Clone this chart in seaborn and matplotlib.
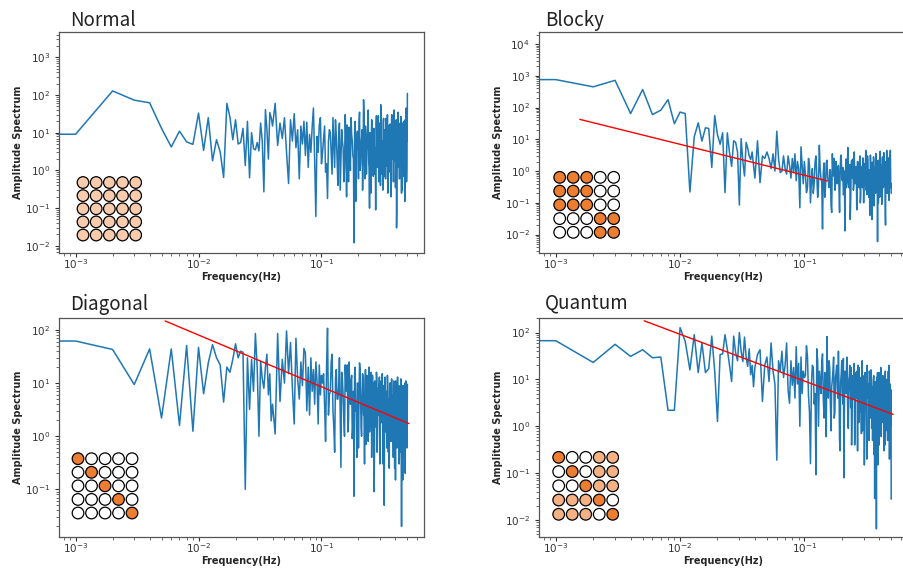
import numpy as np
import pandas as pd
import matplotlib
matplotlib.use("Agg")
import matplotlib.pyplot as plt
import seaborn as sns

# ---------------- data ----------------
freq_lo = np.arange(0, 41) / 1000.0
freq_mid = np.arange(42, 101, 2) / 1000.0
freq_hi = np.arange(104, 501, 4) / 1000.0
freq_hi2 = np.arange(102, 499, 4) / 1000.0

normal_lo = [2500, 9.1, 128, 73, 62, 13, 4.2, 11, 5.7, 4.9,
             33, 3.4, 25, 1.8, 6.5, 3.1, 0.65, 60, 26, 6.5,
             22, 5.0, 5.5, 13, 1.35, 20, 0.64, 10, 3.8, 3.5,
             5.5, 3.3, 18, 6.0, 0.27, 41, 12, 2.0, 34, 25, 15]
normal_mid = [60, 4.6, 18, 7, 25, 3, 0.45, 22, 6, 32,
              4, 12, 0.6, 15, 5, 20, 2.5, 19, 1.2, 9,
              3, 14, 45, 2, 0.06, 8, 3, 16, 25, 1.5]
normal_hi = [7, 0.9, 0.18, 12, 3, 25, 1.2, 8, 0.4, 18,
             2, 6, 0.5, 30, 0.2, 4, 14, 1, 9, 2.5,
             0.012, 20, 3, 11, 0.6, 35, 1.5, 7, 0.3, 75,
             2, 15, 0.8, 6, 40, 1.1, 10, 0.25, 22, 4,
             0.7, 13, 3, 0.09, 28, 1.5, 9, 0.5, 18, 2.2,
             55, 0.8, 6, 0.3, 24, 3, 12, 0.6, 8, 1.3,
             30, 0.4, 5, 16, 0.9, 10, 0.2, 26, 2.5, 7,
             0.5, 40, 1.8, 11, 0.35, 20, 0.03, 6, 1.2, 35,
             3, 9, 0.6, 15, 1.5, 25, 0.25, 8, 2, 18,
             0.7, 12, 3.5, 0.15, 22, 1, 45, 0.5, 10, 110]
normal_hi2 = [3, 15, 1.5, 6, 10, 0.8, 5, 22, 2, 9,
              0.3, 12, 4, 1.2, 7, 16, 0.5, 3, 25, 6,
              2, 10, 0.15, 8, 4, 18, 1, 5, 12, 2.5,
              30, 0.6, 7, 3, 14, 1.8, 0.1, 9, 5, 20,
              2, 11, 0.8, 4, 16, 6, 1.2, 28, 3, 8,
              0.4, 13, 5, 2, 19, 0.7, 9, 4, 24, 1.5,
              6, 0.25, 12, 3, 8, 17, 1, 5, 30, 2,
              10, 0.5, 7, 3.5, 14, 1.2, 22, 0.08, 6, 9,
              2.5, 18, 0.6, 11, 4, 27, 1.5, 7, 0.3, 13,
              5, 20, 2, 8, 0.9, 15, 3, 35, 1.2, 6]

blocky_lo = [11500, 760, 450, 720, 65, 370, 60, 83, 178, 31,
             72, 65, 0.22, 12, 33, 8.8, 23, 22, 1.3, 56,
             14, 7, 16, 0.21, 16, 3.8, 1.4, 9, 8, 4,
             0.085, 10.5, 2, 0.7, 8, 5.4, 3, 2.3, 4, 1.5, 0.6]
blocky_mid = [9, 0.43, 3, 2.5, 4, 2.5, 1.2, 3.5, 1.0, 18,
              2.5, 0.9, 1.0, 3, 1.2, 0.8, 3, 1.5, 0.6, 2.5,
              0.9, 3.5, 0.5, 2, 1.2, 0.07, 5.8, 1.5, 0.4, 2]
blocky_hi = [0.21, 2.5, 0.1, 1.2, 0.4, 3, 0.15, 6.5, 0.6, 0.015,
             1.8, 0.3, 2.2, 0.5, 1.1, 0.08, 3.5, 0.7, 0.25, 2,
             0.4, 1.5, 0.05, 2.8, 0.6, 1.3, 0.2, 0.013, 2.4, 0.5,
             5.5, 0.3, 1.6, 0.12, 2.2, 0.7, 0.25, 4, 0.4, 1.2,
             0.06, 2, 0.8, 0.3, 3, 0.15, 1.4, 0.5, 2.6, 0.1,
             1.7, 0.35, 4.5, 0.6, 0.18, 2.2, 0.45, 1.1, 0.04, 3.2,
             0.7, 0.2, 1.9, 0.5, 2.8, 0.08, 1.3, 0.4, 3.6, 0.25,
             1.5, 0.006, 2.2, 0.6, 1.1, 0.15, 4.2, 0.4, 1.6, 0.09,
             2.5, 0.7, 0.3, 3.8, 0.5, 1.2, 0.05, 2, 0.6, 4.5,
             0.2, 1.4, 0.45, 2.6, 0.12, 1.8, 0.35, 4.5, 0.3, 0.2]
blocky_hi2 = [0.8, 0.3, 1.5, 0.5, 0.2, 2, 0.7, 0.35, 1.2, 0.45,
              0.9, 0.15, 1.8, 0.6, 0.3, 1.1, 0.05, 0.8, 2.5, 0.4,
              0.6, 1.3, 0.25, 0.9, 3.2, 0.5, 0.18, 1, 0.7, 0.3,
              1.6, 0.45, 0.8, 0.03, 1.2, 0.6, 2.4, 0.35, 0.9, 0.5,
              1.4, 0.2, 0.7, 1.9, 0.4, 0.1, 1.1, 0.6, 0.3, 2.1,
              0.8, 0.45, 1.3, 0.25, 0.7, 3, 0.5, 0.15, 1, 0.4,
              1.7, 0.6, 0.03, 0.9, 0.35, 2.3, 0.55, 1.2, 0.2, 0.8,
              0.45, 1.5, 0.7, 0.1, 2, 0.4, 0.9, 0.3, 1.3, 0.6,
              0.2, 2.8, 0.5, 1.1, 0.35, 0.8, 1.6, 0.02, 0.7, 1.2,
              0.4, 2.2, 0.6, 0.9, 0.15, 1.4, 0.5, 3, 0.8, 0.4]

diagonal_lo = [62, 62, 43, 9.4, 44, 2.2, 44, 1.6, 51, 1.24,
               47, 6.3, 24, 53, 30, 22, 4.4, 20, 16, 28,
               55, 30, 40, 38, 0.1, 30, 3.2, 28, 7, 86,
               20, 1.0, 26, 12, 8, 20, 35, 6, 15, 1.95, 4]
diagonal_mid = [1.1, 86, 4.5, 28, 10, 96, 15, 58, 8, 1.7,
                70, 12, 5, 25, 9, 45, 37, 3, 20, 2.5,
                30, 7, 18, 4, 25, 11, 1.7, 22, 6, 14]
diagonal_hi = [15, 0.8, 108, 6, 25, 3, 0.5, 18, 5, 30,
               0.26, 12, 2, 22, 7, 1.2, 25, 4, 14, 1.5,
               0.074, 20, 3, 10, 0.6, 24, 5, 1, 15, 2.5,
               0.3, 18, 4, 9, 0.8, 20, 2, 6, 0.4, 14,
               3, 0.09, 11, 1.5, 16, 0.5, 8, 2.5, 13, 0.7,
               6, 1.8, 15, 0.3, 9, 0.05, 12, 2, 7, 0.6,
               14, 1.2, 5, 0.25, 10, 3, 0.8, 12, 2, 6,
               0.4, 11, 1.5, 4, 0.15, 9, 2.5, 0.6, 13, 1,
               5, 0.3, 8, 2, 0.5, 10, 0.02, 6, 1.5, 9,
               0.4, 4, 1, 10, 0.2, 7, 1.5, 3, 0.6, 9.5]
diagonal_hi2 = [10, 4, 20, 2.5, 7, 35, 1.5, 12, 5, 8,
                3, 16, 6, 1, 9, 22, 2, 5, 11, 0.9,
                7, 15, 3, 0.4, 10, 5, 18, 1.5, 6, 12,
                2.5, 8, 0.7, 14, 4, 9, 1.2, 6, 16, 2,
                5, 10, 0.6, 7, 3, 12, 1.8, 5, 9, 0.3,
                4, 11, 2, 6, 0.9, 8, 3, 13, 1.2, 5,
                2.5, 9, 0.5, 4, 7, 1.5, 10, 3, 0.8, 6,
                2, 8, 4, 0.25, 5, 11, 1.5, 3.5, 7, 1,
                4, 9, 0.4, 6, 2, 12, 1.2, 3, 5, 0.15,
                8, 2.5, 4, 0.7, 6, 3, 11, 1, 5, 2]

quantum_lo = [67, 67, 23, 56, 31, 43, 29, 30, 2.2, 2.2,
              127, 65, 16, 90, 14, 60, 14, 17, 84, 15,
              1.27, 34, 35, 90, 44, 20, 9, 84, 37, 25,
              100, 40, 24, 80, 30, 19, 45, 12.7, 20, 7, 18]
quantum_mid = [34, 43, 3.4, 20, 30, 9, 60, 15, 8, 0.19,
               25, 15, 40, 11, 20, 60, 6, 3.1, 25, 7.5,
               18, 4, 50, 8, 22, 1.0, 30, 5, 15, 11]
quantum_hi = [52, 4.5, 0.16, 20, 3, 0.093, 25, 15, 5, 35,
              1.5, 12, 82, 4, 18, 0.8, 10, 30, 2, 14,
              6, 40, 0.5, 9, 25, 3, 0.08, 15, 5, 30,
              1.2, 10, 20, 2.5, 0.4, 12, 4, 22, 1, 8,
              15, 0.3, 6, 18, 2, 10, 0.7, 25, 3, 9,
              0.15, 14, 5, 1.5, 20, 4, 8, 0.5, 12, 3,
              16, 0.9, 7, 2, 11, 0.25, 0.029, 9, 3, 0.0065,
              6, 14, 1, 5, 0.4, 10, 2.5, 18, 0.6, 7,
              1.5, 12, 3, 0.3, 8, 2, 15, 0.8, 5, 1.2,
              10, 0.5, 6, 2.5, 20, 0.2, 4, 1, 3.5, 0.028]
quantum_hi2 = [12, 30, 2, 8, 18, 5, 45, 1, 9, 22,
               4, 14, 0.6, 10, 25, 3, 7, 16, 1.5, 11,
               20, 4, 8, 0.3, 13, 6, 28, 2, 9, 15,
               5, 0.9, 12, 7, 18, 2.5, 6, 10, 0.4, 14,
               4, 9, 20, 1.2, 6, 11, 3, 16, 0.8, 7,
               12, 2, 5, 9, 0.2, 13, 4, 7, 15, 1.5,
               6, 10, 3, 0.5, 8, 12, 2, 5, 9, 1,
               11, 4, 0.15, 7, 14, 2.5, 5, 9, 0.7, 6,
               10, 3, 1.2, 8, 4, 12, 0.4, 6, 2, 9,
               3.5, 0.9, 7, 15, 2, 5, 1.5, 8, 3, 6]

# power-law fit lines (start / end)
blocky_fit_f = [0.00156, 0.153]
blocky_fit_a = [42.5, 0.49]
diagonal_fit_f = [0.00535, 0.514]
diagonal_fit_a = [148, 1.73]
quantum_fit_f = [0.00514, 0.518]
quantum_fit_a = [178, 1.80]

# 5x5 pattern grids: P pale, L light, D dark, W white
normal_grid = ["PPPPP", "PPPPP", "PPPPP", "PPPPP", "PPPPP"]
blocky_grid = ["DDDWW", "DDDWW", "DDDWW", "WWWDD", "WWWDD"]
diagonal_grid = ["DWWWW", "WDWWW", "WWDWW", "WWWDW", "WWWWD"]
quantum_grid = ["DWWLL", "WDWLL", "WWDLL", "LLLDW", "LLLWD"]

titles = ["Normal", "Blocky", "Diagonal", "Quantum"]

# ---------------- layout ----------------
W, H = 904, 570
sns.set_style("ticks")
plt.rcParams["font.family"] = ["DejaVu Sans"]

fig = plt.figure(figsize=(W / 100, H / 100), dpi=100)

def px_axes(l, t, r, b):
    return fig.add_axes([l / W, 1 - b / H, (r - l) / W, (b - t) / H])

panels = [
    dict(title=titles[0], lo=normal_lo, mid=normal_mid, hi=normal_hi, hi2=normal_hi2,
         fit=None, grid=normal_grid, box=(59, 32, 424, 253), ylim=(-2.19, 3.67),
         tpos=(70, 26), inset=[0.0477, 0.0516, 0.1805, 0.297]),
    dict(title=titles[1], lo=blocky_lo, mid=blocky_mid, hi=blocky_hi, hi2=blocky_hi2,
         fit=(blocky_fit_f, blocky_fit_a),
         grid=blocky_grid, box=(539, 32, 908, 253), ylim=(-2.58, 4.38),
         tpos=(545, 26), inset=[0.0378, 0.0624, 0.183, 0.311]),
    dict(title=titles[2], lo=diagonal_lo, mid=diagonal_mid, hi=diagonal_hi, hi2=diagonal_hi2,
         fit=(diagonal_fit_f, diagonal_fit_a),
         grid=diagonal_grid, box=(59, 318, 424, 537), ylim=(-1.898, 2.226),
         tpos=(70, 310), inset=[0.0336, 0.0785, 0.185, 0.31]),
    dict(title=titles[3], lo=quantum_lo, mid=quantum_mid, hi=quantum_hi, hi2=quantum_hi2,
         fit=(quantum_fit_f, quantum_fit_a),
         grid=quantum_grid, box=(539, 318, 908, 537), ylim=(-2.36, 2.31),
         tpos=(545, 308), inset=[0.0351, 0.0712, 0.183, 0.325]),
]

colour_map = {"P": "#F8CBAD", "L": "#F4B183", "D": "#ED7D31", "W": "#FFFFFF"}
spine_col = "#555555"

freq = np.concatenate([freq_lo, freq_mid, freq_hi, freq_hi2])

for p in panels:
    ax = px_axes(*p["box"])
    l, t, r, b = p["box"]
    aw, ah = r - l, b - t
    amp = np.concatenate([p["lo"], p["mid"], p["hi"], p["hi2"]]).astype(float)
    df = pd.DataFrame({"f": freq, "a": amp}).sort_values("f")
    sns.lineplot(data=df, x="f", y="a", ax=ax, color="#1f77b4",
                 linewidth=1.1, estimator=None, sort=False)
    if p["fit"] is not None:
        fdf = pd.DataFrame({"f": p["fit"][0], "a": p["fit"][1]})
        sns.lineplot(data=fdf, x="f", y="a", ax=ax, color="red",
                     linewidth=1.0, estimator=None, sort=False)
    ax.set_xscale("log")
    ax.set_yscale("log")
    ax.set_xlim(10 ** -3.135, 10 ** -0.166)
    ax.set_ylim(10 ** p["ylim"][0], 10 ** p["ylim"][1])
    ax.set_xlabel("Frequency(Hz)", fontsize=7, fontweight="bold")
    ax.set_ylabel("Amplitude Spectrum", fontsize=7, fontweight="bold")
    ax.xaxis.set_label_coords(0.5, -18.5 / ah)
    ax.xaxis.label.set_va("top")
    ax.yaxis.set_label_coords(-41.0 / aw, 0.5)
    ax.yaxis.label.set_va("center")
    ax.tick_params(axis="both", which="major", labelsize=7.5, length=3,
                   width=0.8, colors="#333333")
    ax.tick_params(axis="x", which="major", pad=0)
    ax.tick_params(axis="both", which="minor", length=2, width=0.6,
                   colors="#555555")
    for s in ax.spines.values():
        s.set_color(spine_col)
        s.set_linewidth(0.9)
    fig.text(p["tpos"][0] / W, 1 - p["tpos"][1] / H, p["title"],
             fontsize=13.5, family=["Noto Sans CJK JP", "DejaVu Sans"],
             color="#222222", va="baseline", ha="left")

    # pattern grid
    iax = ax.inset_axes(p["inset"])
    xs, ys, cs = [], [], []
    for i, row in enumerate(p["grid"]):
        for j, ch in enumerate(row):
            xs.append(j)
            ys.append(4 - i)
            cs.append(ch)
    gdf = pd.DataFrame({"x": xs, "y": ys, "c": cs})
    sns.scatterplot(data=gdf, x="x", y="y", hue="c", palette=colour_map,
                    ax=iax, s=70, edgecolor="black", linewidth=0.9,
                    legend=False, zorder=3)
    iax.set_xlim(-0.5, 4.5)
    iax.set_ylim(-0.5, 4.5)
    iax.set_xlabel("")
    iax.set_ylabel("")
    iax.set_xticks([])
    iax.set_yticks([])
    iax.axis("off")

fig.savefig("out.png", dpi=100)
